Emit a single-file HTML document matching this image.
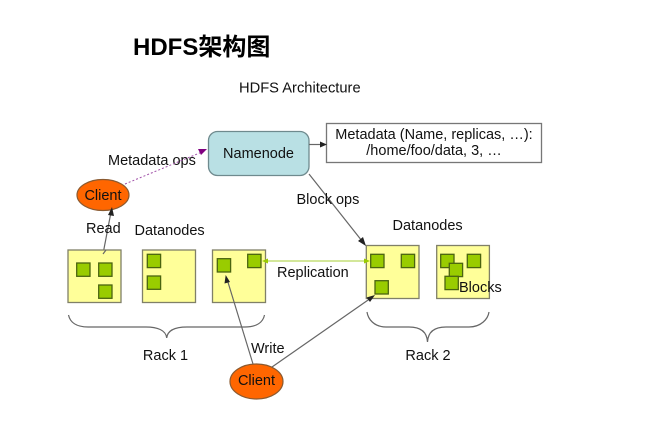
<!DOCTYPE html>
<html>
<head>
<meta charset="utf-8">
<style>
html,body{margin:0;padding:0;background:#fff;}
svg{display:block;}
text{font-family:"Liberation Sans","Noto Sans CJK SC",sans-serif;fill:#111;font-size:14px;}
.r{fill:#ffff99;stroke:#808068;stroke-width:1.300;}
.b{fill:#99cc00;stroke:#4a6410;stroke-width:1.300;}
.l{stroke:#666;stroke-width:1.200;fill:none;}
.h{fill:#222;stroke:none;}
</style>
</head>
<body>
<svg width="651" height="426" viewBox="0 0 651 426" xmlns="http://www.w3.org/2000/svg">
<text x="133" y="55" style="font-size:24px;font-weight:bold;fill:#000">HDFS架构图</text>
<text x="239" y="92.500" style="font-size:14.700px">HDFS Architecture</text>

<rect x="208.500" y="131.500" width="100.500" height="44" rx="9" ry="9" fill="#b9e0e4" stroke="#6f8a8e" stroke-width="1.300"/>
<text x="258.500" y="158" text-anchor="middle" style="font-size:14.500px">Namenode</text>

<rect x="326.500" y="123.500" width="215" height="39" fill="#fff" stroke="#777" stroke-width="1.300"/>
<text x="434" y="139" text-anchor="middle" style="font-size:14.500px">Metadata (Name, replicas, …):</text>
<text x="434" y="155" text-anchor="middle" style="font-size:14.500px">/home/foo/data, 3, …</text>
<line class="l" x1="309" y1="144.500" x2="322" y2="144.500"/>
<polygon class="h" points="327,144.500 320,141.500 320,147.500"/>

<text x="108" y="165" style="font-size:14.500px">Metadata ops</text>
<line x1="125" y1="184" x2="202" y2="152" stroke="#a050a8" stroke-width="1" stroke-dasharray="2 2"/>
<polygon points="207,149 198,149 201,155" fill="#800080"/>

<ellipse cx="103" cy="195" rx="26" ry="15.500" fill="#ff6600" stroke="#8a5a30" stroke-width="1.200"/>
<text x="103" y="200" text-anchor="middle" style="font-size:14.500px">Client</text>

<line class="l" x1="103" y1="254" x2="111" y2="212"/>
<polygon class="h" points="112,207 108,215 114,216"/>
<text x="86" y="233" style="font-size:14.500px">Read</text>
<text x="134.500" y="235" style="font-size:14.500px">Datanodes</text>

<rect class="r" x="68" y="250" width="53" height="52.500"/>
<rect class="r" x="142.500" y="250" width="53" height="52.500"/>
<rect class="r" x="212.500" y="250" width="53" height="52.500"/>
<line class="l" x1="103" y1="254" x2="106" y2="250"/>
<rect class="b" x="76.700" y="263" width="13.300" height="13.300"/>
<rect class="b" x="98.700" y="263" width="13.300" height="13.300"/>
<rect class="b" x="98.700" y="285" width="13.300" height="13.300"/>
<rect class="b" x="147.300" y="254.300" width="13.300" height="13.300"/>
<rect class="b" x="147.300" y="276" width="13.300" height="13.300"/>
<rect class="b" x="217.300" y="258.700" width="13.300" height="13.300"/>
<rect class="b" x="247.700" y="254.300" width="13.300" height="13.300"/>

<rect class="r" x="366.300" y="245.500" width="52.700" height="53"/>
<rect class="r" x="436.700" y="245.500" width="52.700" height="53"/>
<rect class="b" x="370.700" y="254.300" width="13.300" height="13.300"/>
<rect class="b" x="401.300" y="254.300" width="13.300" height="13.300"/>
<rect class="b" x="375" y="280.700" width="13.300" height="13.300"/>
<rect class="b" x="440.700" y="254.300" width="13.300" height="13.300"/>
<rect class="b" x="467.300" y="254.300" width="13.300" height="13.300"/>
<rect class="b" x="449.300" y="263.300" width="13.300" height="13.300"/>
<rect class="b" x="445" y="276.300" width="13.300" height="13.300"/>
<text x="459" y="292" style="font-size:14.500px">Blocks</text>

<line x1="266" y1="261" x2="366" y2="261" stroke="#d3e79a" stroke-width="2"/>
<polygon points="262,261 268,258.500 268,263.500" fill="#99cc00"/>
<polygon points="370,261 364,258.500 364,263.500" fill="#99cc00"/>
<text x="277" y="277" style="font-size:14.500px">Replication</text>

<line class="l" x1="309" y1="174" x2="362" y2="241"/>
<polygon class="h" points="366,246 363,237 358,241"/>
<text x="296.500" y="204" style="font-size:14.500px">Block ops</text>
<text x="392.500" y="230" style="font-size:14.500px">Datanodes</text>

<path class="l" d="M68.500 315 C70 322 76 327 88 327 L146 327 C157 327 166 330 166.700 338 C167.500 330 176 327 187 327 L245 327 C257 327 263 322 264.500 315"/>
<path class="l" d="M367 312 C368 319 374 327 386 327 L409 327 C421 327 427 332 427.500 342 C428 332 434 327 446 327 L469 327 C481 327 488 319 489 312"/>
<text x="165.500" y="360" text-anchor="middle" style="font-size:14.500px">Rack 1</text>
<text x="428" y="360" text-anchor="middle" style="font-size:14.500px">Rack 2</text>

<ellipse cx="256.500" cy="381.500" rx="26.500" ry="17.500" fill="#ff6600" stroke="#8a5a30" stroke-width="1.200"/>
<text x="256.500" y="385" text-anchor="middle" style="font-size:14.500px">Client</text>
<text x="251" y="353" style="font-size:14.500px">Write</text>

<line class="l" x1="253" y1="364" x2="227" y2="279"/>
<polygon class="h" points="225.700,275 224.500,283.500 230,282"/>
<line class="l" x1="272" y1="367" x2="371" y2="298"/>
<polygon class="h" points="375,295 366.500,297.500 370,302"/>
</svg>
</body>
</html>
